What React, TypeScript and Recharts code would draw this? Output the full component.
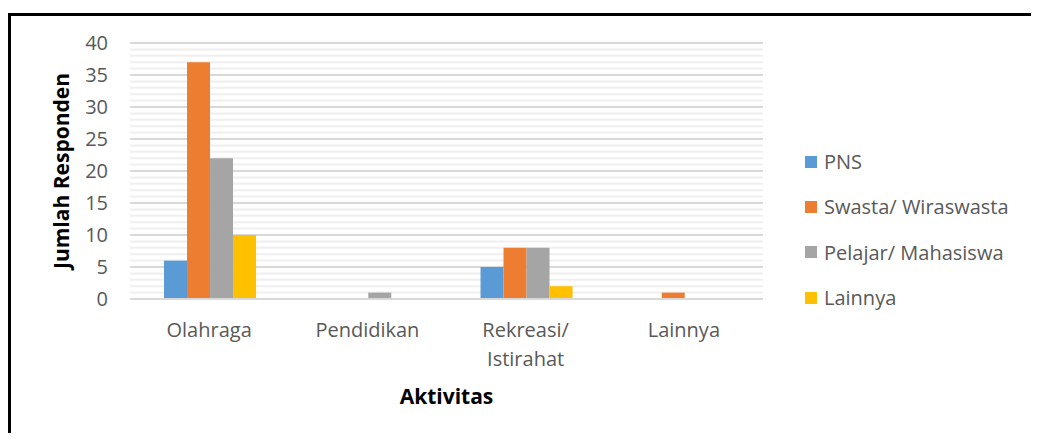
import React from 'react'
import { BarChart, Bar, CartesianGrid, XAxis, YAxis, Legend, Label } from 'recharts'

const categories = ['Olahraga', 'Pendidikan', 'Rekreasi/\nIstirahat', 'Lainnya']
const pns = [6, 0, 5, 0]
const swasta = [37, 0, 8, 1]
const pelajar = [22, 1, 8, 0]
const lainnya = [10, 0, 2, 0]
const yTicks = [0, 5, 10, 15, 20, 25, 30, 35, 40]
const minorTicks = [1, 2, 3, 4, 6, 7, 8, 9, 11, 12, 13, 14, 16, 17, 18, 19, 21, 22, 23, 24, 26, 27, 28, 29, 31, 32, 33, 34, 36, 37, 38, 39]

const series = [
  { key: 'pns', name: 'PNS', color: '#5B9BD5' },
  { key: 'swasta', name: 'Swasta/ Wiraswasta', color: '#ED7D31' },
  { key: 'pelajar', name: 'Pelajar/ Mahasiswa', color: '#A5A5A5' },
  { key: 'lainnya', name: 'Lainnya', color: '#FFC000' },
]

const data = categories.map((c, i) => ({
  cat: c, pns: pns[i], swasta: swasta[i], pelajar: pelajar[i], lainnya: lainnya[i],
}))

const FONT = '"Open Sans", sans-serif'
const TXT = '#595959'

const XTick = (props: any) => {
  const { x, y, payload } = props
  const lines = String(payload.value).split('\n')
  return (
    <text x={x} y={y} textAnchor="middle" fill={TXT} fontSize={20} fontFamily={FONT}>
      {lines.map((l, i) => (
        <tspan key={i} x={x} dy={i === 0 ? 38 : 29}>{l}</tspan>
      ))}
    </text>
  )
}

const LegendBox = () => (
  <div style={{ fontFamily: FONT, fontSize: 20, color: TXT }}>
    {series.map(s => (
      <div key={s.key} style={{ display: 'flex', alignItems: 'center', height: 45.3 }}>
        <span style={{ width: 12, height: 12, background: s.color, display: 'inline-block', marginRight: 7 }} />
        <span>{s.name}</span>
      </div>
    ))}
  </div>
)

export default function App() {
  return (
    <div style={{ position: 'relative', width: 1039, height: 441, margin: -8, background: '#fff' }}>
      <div style={{ position: 'absolute', left: 8, top: 13, width: 1031, height: 428, borderTop: '3px solid #000', borderLeft: '3px solid #000', boxSizing: 'border-box' }} />
      <div style={{ position: 'absolute', left: 0, top: 0 }}>
        <BarChart width={1039} height={441} data={data}
          margin={{ top: 43, right: 276, bottom: 112, left: 70 }}
          barGap={0} barCategoryGap="21.5%">
          <CartesianGrid vertical={false} horizontalValues={minorTicks} stroke="#efefef" strokeWidth={2} />
          <CartesianGrid vertical={false} horizontalValues={yTicks} stroke="#d9d9d9" strokeWidth={2} />
          <XAxis dataKey="cat" tick={<XTick />} tickLine={false} tickSize={0} tickMargin={0}
            axisLine={{ stroke: '#d9d9d9', strokeWidth: 2 }} interval={0} height={30}>
            <Label value="Aktivitas" position="bottom" offset={60} fill="#000" fontSize={21} fontWeight="bold" fontFamily={FONT} />
          </XAxis>
          <YAxis width={60} domain={[0, 40]} ticks={yTicks} interval={0} tickLine={false} axisLine={false}
            tickSize={0} tickMargin={22} tick={{ fill: TXT, fontSize: 20, fontFamily: FONT }}>
            <Label value="Jumlah Responden" angle={-90} position="center" dx={-38} fill="#000" fontSize={21} fontWeight="bold" fontFamily={FONT} />
          </YAxis>
          {series.map(s => (
            <Bar key={s.key} dataKey={s.key} name={s.name} fill={s.color} isAnimationActive={false} />
          ))}
          <Legend layout="horizontal" verticalAlign="middle" align="center" content={<LegendBox />}
            wrapperStyle={{ position: 'absolute', left: 805, top: 139, width: 230 }} />
        </BarChart>
      </div>
    </div>
  )
}
